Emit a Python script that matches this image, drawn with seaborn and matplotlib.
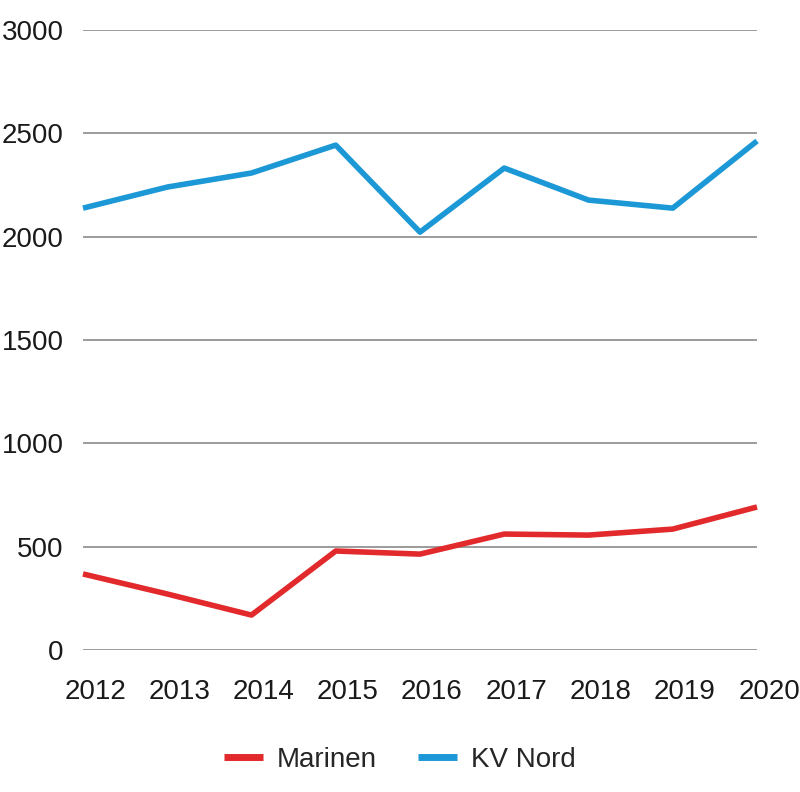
import matplotlib
matplotlib.use("Agg")
import matplotlib.pyplot as plt
import matplotlib.transforms as mtransforms
from matplotlib import font_manager
import seaborn as sns
import pandas as pd

years = [2012, 2013, 2014, 2015, 2016, 2017, 2018, 2019, 2020]
marinen = [368, 271, 169, 479, 464, 561, 556, 585, 692]
kv_nord = [2138, 2240, 2308, 2443, 2022, 2332, 2177, 2138, 2463]
series_names = ["Marinen", "KV Nord"]
colors = ["#E2292B", "#1B98D5"]
y_ticks = [0, 500, 1000, 1500, 2000, 2500, 3000]

df = pd.DataFrame({
    "year": years * 2,
    "value": marinen + kv_nord,
    "series": [series_names[0]] * len(years) + [series_names[1]] * len(years),
})

sns.set_theme(style="white")
names = {f.name for f in font_manager.fontManager.ttflist}
narrow = "Liberation Sans Narrow" in names
if narrow:
    plt.rcParams["font.family"] = ["Liberation Sans Narrow", "DejaVu Sans"]
    fs = 22
else:
    plt.rcParams["font.family"] = ["Liberation Sans", "DejaVu Sans"]
    fs = 20

fig = plt.figure(figsize=(8, 7.92), dpi=100)
ax = fig.add_axes([83 / 800, 1 - 650 / 792, (757 - 83) / 800, (650 - 30) / 792])

sns.lineplot(data=df, x="year", y="value", hue="series", hue_order=series_names,
             palette=colors, linewidth=4.0, ax=ax, legend=True, zorder=3)

ax.set_xlim(2012, 2020)
ax.set_ylim(0, 3000)
ax.set_yticks(y_ticks)
ax.set_xticks(years)
ax.set_xticklabels([str(y) for y in years])
ax.yaxis.grid(True, color="#8a8a8a", linewidth=1.2)
ax.xaxis.grid(False)
for s in ax.spines.values():
    s.set_visible(False)
ax.tick_params(axis="y", length=0, pad=14, labelsize=fs, labelcolor="#1a1a1a")
ax.tick_params(axis="x", length=0, pad=21, labelsize=fs, labelcolor="#1a1a1a")
ax.set_xlabel("")
ax.set_ylabel("")
offset = mtransforms.ScaledTranslation(12 / 100, 0, fig.dpi_scale_trans)
for lab in ax.get_xticklabels():
    lab.set_transform(lab.get_transform() + offset)

for line in ax.get_lines():
    line.set_solid_capstyle("butt")
    line.set_clip_on(False)

handles, labels = ax.get_legend_handles_labels()
for h in handles:
    h.set_linewidth(5)
ax.legend(handles, labels, loc="center", bbox_to_anchor=(0.5, 1 - 760 / 792),
          bbox_transform=fig.transFigure, ncol=2, frameon=False, fontsize=fs,
          handlelength=1.4, handletextpad=0.5, columnspacing=1.5)

fig.savefig("out.png", dpi=100)
